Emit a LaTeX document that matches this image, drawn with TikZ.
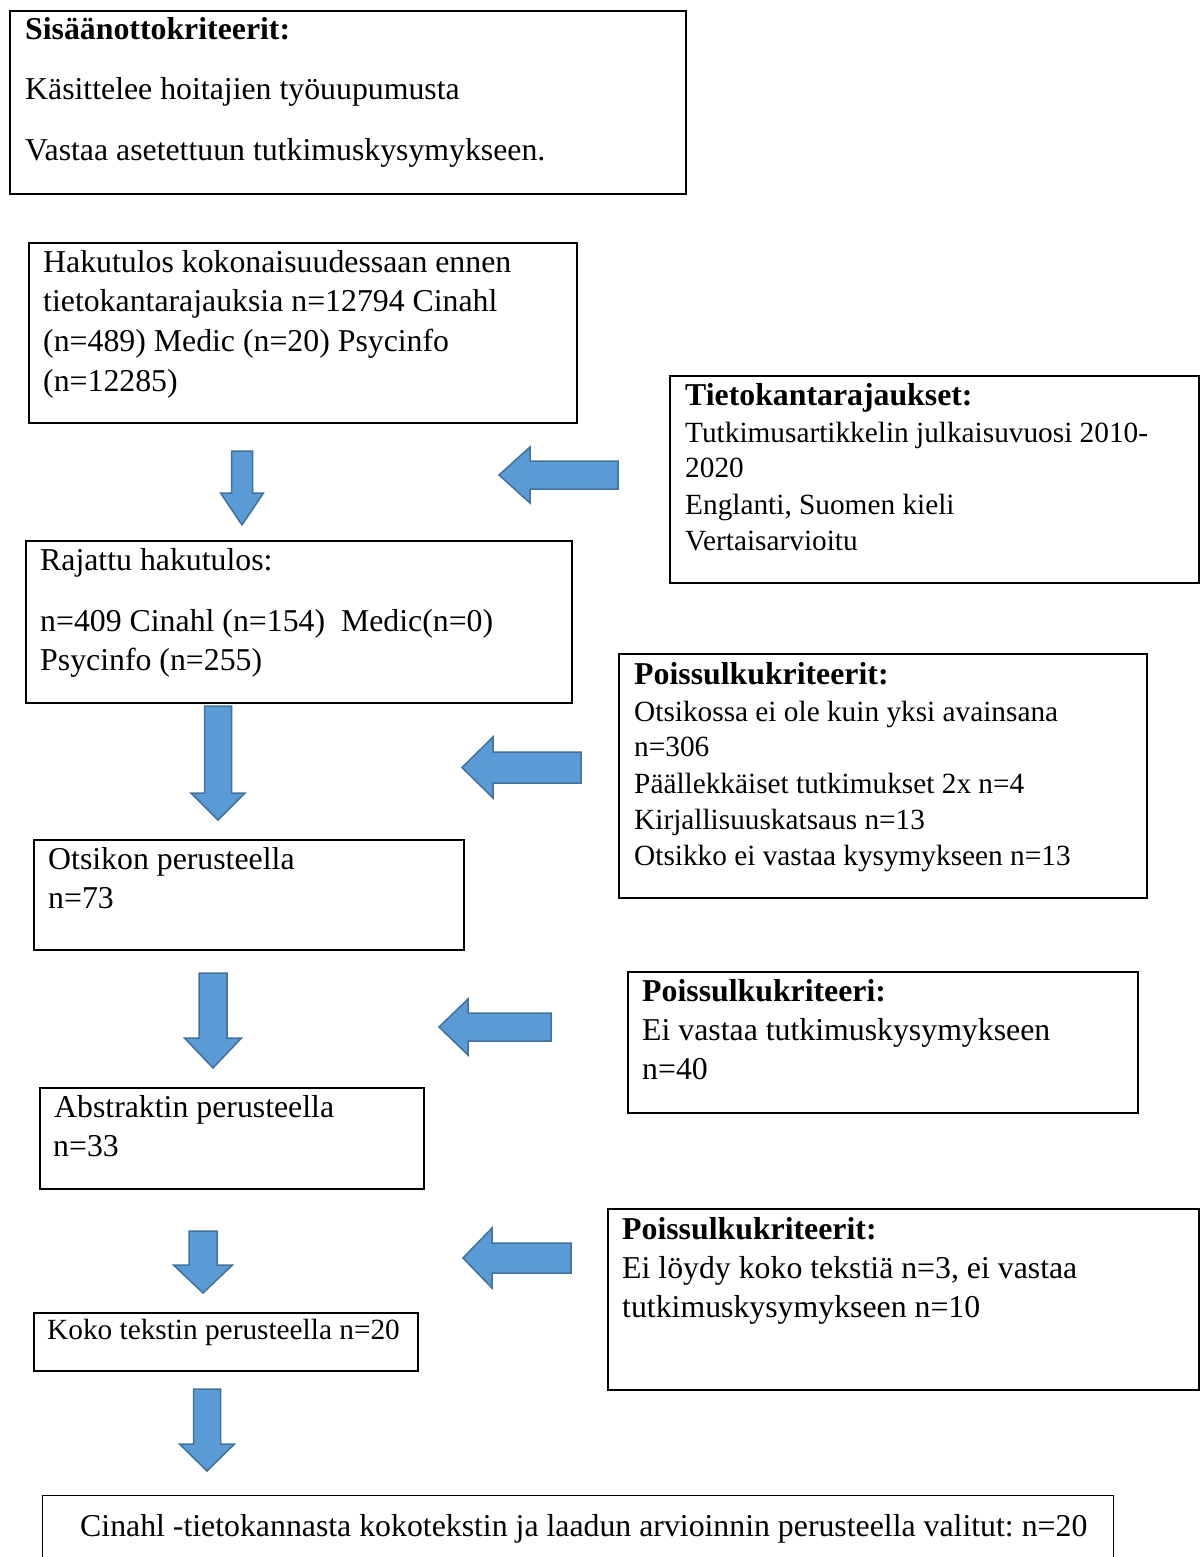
\documentclass[tikz,border=0pt]{standalone}
\usepackage{fontspec}
\setmainfont{Liberation Serif}
\frenchspacing
\definecolor{arrowfill}{HTML}{5B9BD5}
\definecolor{arrowline}{HTML}{41719C}
\tikzset{
 box/.style={draw=black, line width=1.6pt, fill=white, inner sep=0pt, anchor=north west},
 txt/.style={inner sep=0pt, anchor=base west, font=\fontsize{31.8}{38}\selectfont},
 smalltxt/.style={inner sep=0pt, anchor=base west, font=\fontsize{29.3}{35}\selectfont},
 hdr/.style={inner sep=0pt, anchor=base west, font=\fontsize{31.8}{38}\selectfont\bfseries},
 blockarrow/.style={fill=arrowfill, draw=arrowline, line width=1.5pt, line join=miter},
}
\newcommand\blockdown[6]{\draw[blockarrow] ({#1-#3},{#2}) -- ({#1+#3},{#2}) -- ({#1+#3},{#5}) -- ({#1+#4},{#5}) -- ({#1},{#6}) -- ({#1-#4},{#5}) -- ({#1-#3},{#5}) -- cycle;}
\newcommand\blockleft[6]{\draw[blockarrow] ({#6},{#1-#4}) -- ({#6},{#1+#4}) -- ({#3},{#1+#4}) -- ({#3},{#1+#5}) -- ({#2},{#1}) -- ({#3},{#1-#5}) -- ({#3},{#1-#4}) -- cycle;}
\begin{document}
\begin{tikzpicture}[x=1pt,y=-1pt]
\useasboundingbox (0,0) rectangle (1199,1557);
% boxes
\node[box, minimum width=676pt, minimum height=183pt] (crit) at (9,10) {};
\node[box, minimum width=548pt, minimum height=180pt] (haku) at (28,242) {};
\node[box, minimum width=529pt, minimum height=207pt] (tieto) at (669,375) {};
\node[box, minimum width=546pt, minimum height=162pt] (rajattu) at (25,540) {};
\node[box, minimum width=528pt, minimum height=244pt] (pois1) at (618,653) {};
\node[box, minimum width=430pt, minimum height=110pt] (otsikko) at (33,839) {};
\node[box, minimum width=510pt, minimum height=141pt] (pois2) at (627,971) {};
\node[box, minimum width=384pt, minimum height=101pt] (abstr) at (39,1087) {};
\node[box, minimum width=591pt, minimum height=181pt] (pois3) at (607,1208) {};
\node[box, minimum width=384pt, minimum height=58pt] (koko) at (33,1312) {};
\node[box, line width=1.2pt, minimum width=1071pt, minimum height=120pt] (final) at (42,1495) {};
% texts
\node[hdr] (t1) at (25,40) {Sisäänottokriteerit:};
\node[txt] (t2) at (25,100) {Käsittelee hoitajien työuupumusta};
\node[txt] (t3) at (25,161) {Vastaa asetettuun tutkimuskysymykseen.};
\node[txt] (h1) at (43,272) {Hakutulos kokonaisuudessaan ennen};
\node[txt] (h2) at (43,311) {tietokantarajauksia n=12794 Cinahl};
\node[txt] (h3) at (43,351) {(n=489) Medic (n=20) Psycinfo};
\node[txt] (h4) at (43,391) {(n=12285)};
\node[hdr] (k1) at (685,405) {Tietokantarajaukset:};
\node[smalltxt] (k2) at (685,442) {Tutkimusartikkelin julkaisuvuosi 2010-};
\node[smalltxt] (k3) at (685,477) {2020};
\node[smalltxt] (k4) at (685,514) {Englanti, Suomen kieli};
\node[smalltxt] (k5) at (685,550) {Vertaisarvioitu};
\node[txt] (r1) at (40,570) {Rajattu hakutulos:};
\node[txt] (r2) at (40,631) {n=409 Cinahl (n=154)\ \ Medic(n=0)};
\node[txt] (r3) at (40,670) {Psycinfo (n=255)};
\node[hdr] (p1) at (634,684) {Poissulkukriteerit:};
\node[smalltxt] (p2) at (634,721) {Otsikossa ei ole kuin yksi avainsana};
\node[smalltxt] (p3) at (634,756) {n=306};
\node[smalltxt] (p4) at (634,793) {Päällekkäiset tutkimukset 2x n=4};
\node[smalltxt] (p5) at (634,829) {Kirjallisuuskatsaus n=13};
\node[smalltxt] (p6) at (634,865) {Otsikko ei vastaa kysymykseen n=13};
\node[txt] (o1) at (48,869) {Otsikon perusteella};
\node[txt] (o2) at (48,908) {n=73};
\node[hdr] (q1) at (642,1001) {Poissulkukriteeri:};
\node[txt] (q2) at (642,1040) {Ei vastaa tutkimuskysymykseen};
\node[txt] (q3) at (642,1079) {n=40};
\node[txt] (a1) at (54,1117) {Abstraktin perusteella};
\node[txt] (a2) at (53,1156) {n=33};
\node[hdr] (s1) at (622,1239) {Poissulkukriteerit:};
\node[txt] (s2) at (622,1278) {Ei löydy koko tekstiä n=3, ei vastaa};
\node[txt] (s3) at (622,1317) {tutkimuskysymykseen n=10};
\node[smalltxt] (kk) at (47,1339) {Koko tekstin perusteella n=20};
\node[txt] (f1) at (80,1536) {Cinahl -tietokannasta kokotekstin ja laadun arvioinnin perusteella valitut: n=20};
% arrows
\blockdown{242}{451}{10.5}{21.5}{493}{525}
\blockdown{218}{706}{13.5}{27}{793}{820}
\blockdown{213}{973}{14}{28.5}{1038}{1068}
\blockdown{203}{1231}{14}{29.5}{1265}{1293}
\blockdown{207}{1389}{13.5}{27.5}{1444}{1471}
\blockleft{475}{499}{530}{14}{28}{618}
\blockleft{767.5}{462}{493}{15.5}{30.5}{581}
\blockleft{1027}{439}{468}{14}{28}{551}
\blockleft{1258}{463}{492}{15}{30}{571}
\end{tikzpicture}
\end{document}
